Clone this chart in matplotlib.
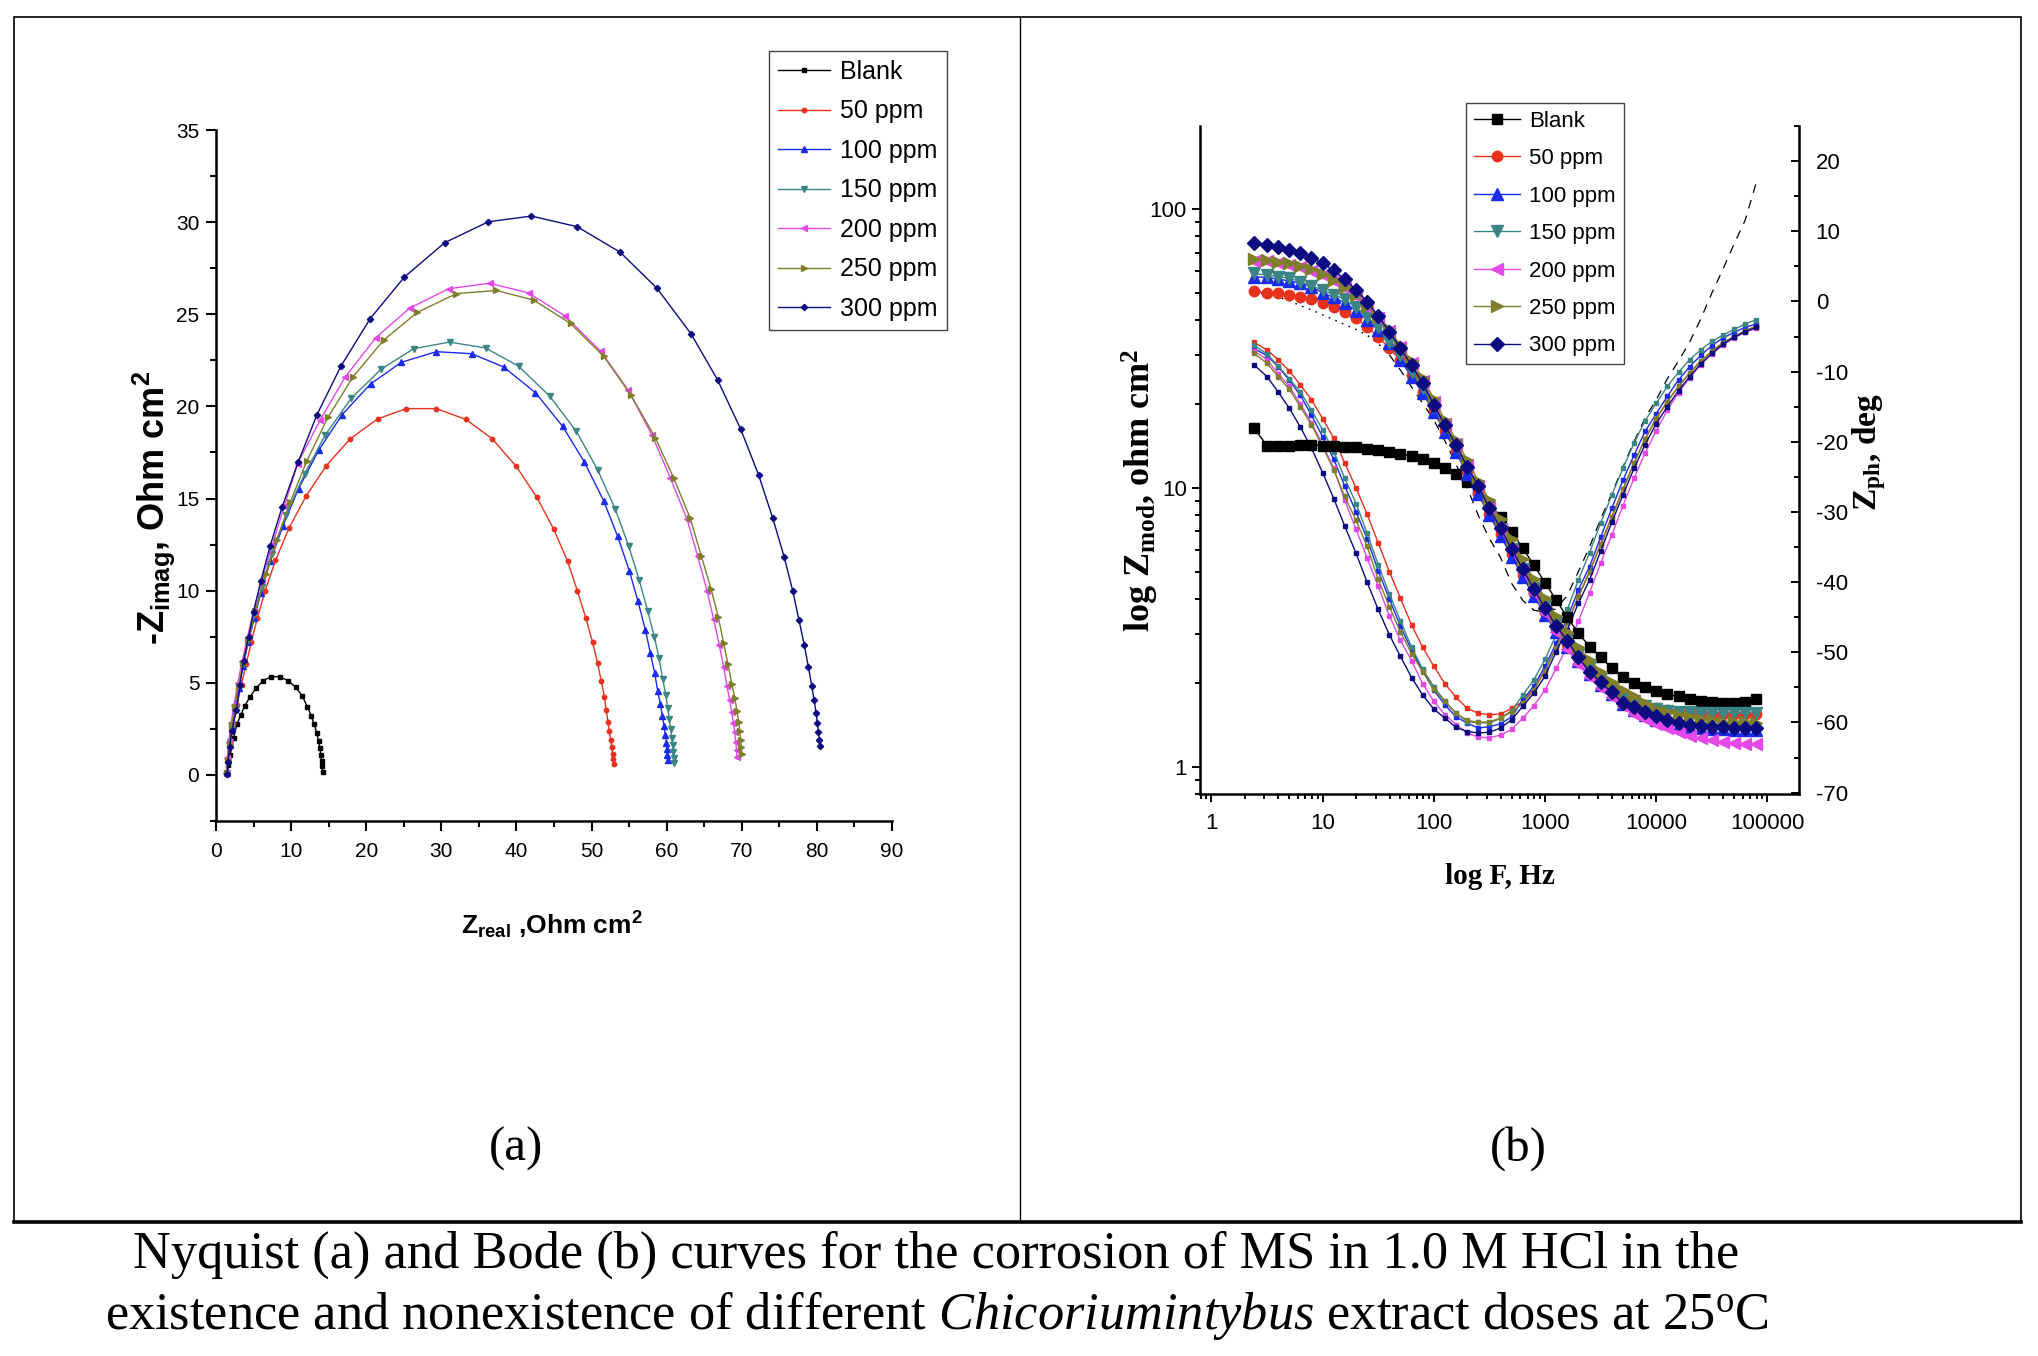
import matplotlib
matplotlib.use('Agg')
import matplotlib.pyplot as plt
from matplotlib.ticker import MultipleLocator, LogLocator, FuncFormatter, NullFormatter
from matplotlib.lines import Line2D
from matplotlib.patches import Rectangle

plt.rcParams['font.family'] = 'Liberation Sans'
plt.rcParams['axes.unicode_minus'] = False
plt.rcParams['mathtext.fontset'] = 'custom'
plt.rcParams['mathtext.rm'] = 'Liberation Serif'
plt.rcParams['mathtext.it'] = 'Liberation Serif:italic'
plt.rcParams['mathtext.bf'] = 'Liberation Serif:bold'

# ---------------- data ----------------
labels = ['Blank', '50 ppm', '100 ppm', '150 ppm', '200 ppm', '250 ppm', '300 ppm']
colors = ['#000000', '#E8321E', '#1A2BEB', '#3C8585', '#E448E8', '#7F7F2B', '#0C0C80']
nyq_markers = ['s', 'o', '^', 'v', '<', '>', 'D']

# Nyquist (a): Z real / -Z imag, Ohm cm2
zre_blank = [1.5, 1.65, 1.89, 2.33, 2.78, 3.31, 3.8, 4.55, 5.31, 6.29, 7.35, 8.55, 9.61, 10.59,
             11.48, 12.15, 12.68, 13.08, 13.43, 13.66, 13.83, 13.96, 14.05, 14.14, 14.19]
zim_blank = [0.05, 0.55, 1.1, 2.0, 2.74, 3.26, 3.73, 4.25, 4.71, 5.12, 5.33, 5.33, 5.1, 4.77,
             4.29, 3.71, 3.22, 2.74, 2.26, 1.85, 1.45, 1.08, 0.77, 0.46, 0.15]

zre_50 = [1.4, 1.6, 1.9, 2.3, 2.8, 3.4, 4.0, 4.7, 5.5, 6.55, 7.92, 9.7, 11.97, 14.68, 17.87,
          21.51, 25.33, 29.32, 33.28, 36.78, 39.98, 42.73, 44.95, 46.81, 48.1, 49.26, 50.14,
          50.81, 51.3, 51.7, 51.96, 52.19, 52.36, 52.54, 52.68, 52.81, 52.9, 52.99]
zim_50 = [0.1, 0.9, 1.8, 2.8, 3.8, 4.9, 6.0, 7.2, 8.5, 10.0, 11.64, 13.38, 15.12, 16.78, 18.24,
          19.32, 19.88, 19.88, 19.29, 18.24, 16.74, 15.06, 13.34, 11.6, 10.0, 8.49, 7.2,
          6.06, 5.08, 4.25, 3.51, 2.88, 2.39, 1.91, 1.49, 1.14, 0.87, 0.62]

zre_100 = [1.4, 1.55, 1.8, 2.1, 2.5, 3.0, 3.6, 4.3, 5.1, 5.98, 7.22, 8.9, 10.99, 13.66, 16.81,
           20.58, 24.66, 29.32, 34.03, 38.29, 42.51, 46.15, 49.03, 51.61, 53.47, 55.03, 56.18,
           57.16, 57.82, 58.4, 58.8, 59.16, 59.42, 59.64, 59.82, 59.96, 60.04, 60.09, 60.13]
zim_100 = [0.1, 0.8, 1.7, 2.6, 3.6, 4.7, 5.9, 7.2, 8.5, 9.9, 11.6, 13.5, 15.54, 17.61, 19.56,
           21.22, 22.39, 22.97, 22.86, 22.14, 20.75, 18.92, 16.99, 14.88, 12.95, 11.08, 9.42,
           7.88, 6.64, 5.54, 4.56, 3.84, 3.22, 2.68, 2.18, 1.76, 1.39, 1.08, 0.83]

zre_150 = [1.4, 1.55, 1.8, 2.1, 2.5, 3.0, 3.6, 4.3, 5.1, 6.1, 7.4, 9.3, 11.79, 14.54, 18.0,
           21.96, 26.3, 31.09, 35.9, 40.29, 44.42, 47.97, 50.81, 53.16, 54.94, 56.36, 57.47,
           58.36, 58.98, 59.47, 59.87, 60.14, 60.36, 60.54, 60.67, 60.8, 60.89, 60.93, 60.98]
zim_150 = [0.1, 0.8, 1.8, 2.7, 3.7, 4.8, 6.0, 7.3, 8.7, 10.2, 12.0, 14.1, 16.33, 18.44, 20.44,
           22.01, 23.13, 23.49, 23.17, 22.18, 20.56, 18.65, 16.56, 14.42, 12.43, 10.56, 8.9,
           7.51, 6.33, 5.23, 4.36, 3.63, 3.05, 2.47, 2.01, 1.6, 1.24, 0.93, 0.66]

zre_200 = [1.35, 1.5, 1.7, 2.0, 2.4, 2.9, 3.5, 4.2, 5.0, 6.1, 7.5, 9.1, 10.86, 13.88, 17.21,
           21.29, 25.77, 31.01, 36.43, 41.62, 46.5, 51.2, 54.9, 58.05, 60.49, 62.71, 64.13,
           65.37, 66.26, 67.02, 67.59, 68.04, 68.39, 68.65, 68.88, 69.06, 69.2, 69.3, 69.36]
zim_200 = [0.1, 0.9, 1.8, 2.8, 3.8, 5.0, 6.2, 7.5, 8.9, 10.6, 12.5, 14.6, 16.9, 19.27, 21.6,
           23.73, 25.33, 26.39, 26.68, 26.16, 24.9, 23.0, 20.87, 18.44, 16.12, 13.88, 11.87,
           10.0, 8.44, 7.03, 5.85, 4.81, 4.05, 3.42, 2.84, 2.32, 1.8, 1.35, 0.98]

zre_250 = [1.4, 1.55, 1.8, 2.1, 2.5, 3.0, 3.6, 4.3, 5.2, 6.69, 8.1, 9.88, 12.1, 14.9, 18.23,
           22.31, 26.79, 32.0, 37.32, 42.29, 47.2, 51.63, 55.2, 58.49, 60.93, 63.15, 64.62,
           65.91, 66.88, 67.59, 68.17, 68.66, 69.06, 69.37, 69.59, 69.72, 69.86, 69.95, 70.03]
zim_250 = [0.1, 0.8, 1.7, 2.7, 3.7, 4.8, 6.0, 7.3, 8.9, 10.9, 12.76, 14.8, 17.05, 19.4, 21.6,
           23.59, 25.1, 26.12, 26.29, 25.77, 24.5, 22.71, 20.64, 18.3, 16.12, 13.92, 11.87,
           10.1, 8.55, 7.16, 6.0, 4.96, 4.19, 3.46, 2.88, 2.39, 1.91, 1.49, 1.14]

zre_300 = [1.5, 1.6, 1.8, 2.1, 2.7, 3.2, 3.67, 4.33, 5.0, 5.98, 7.22, 8.82, 10.95, 13.43, 16.63,
           20.54, 25.06, 30.43, 36.25, 42.0, 48.1, 53.83, 58.71, 63.24, 66.79, 69.86, 72.25,
           74.12, 75.63, 76.78, 77.62, 78.33, 78.87, 79.31, 79.63, 79.89, 80.07, 80.21, 80.34, 80.42]
zim_300 = [0.05, 0.7, 1.5, 2.4, 3.5, 4.9, 6.2, 7.47, 8.86, 10.54, 12.45, 14.56, 16.99, 19.54, 22.18,
           24.77, 27.01, 28.88, 30.02, 30.33, 29.75, 28.36, 26.41, 23.94, 21.43, 18.76, 16.27,
           13.94, 11.85, 10.0, 8.4, 7.03, 5.85, 4.85, 4.05, 3.38, 2.8, 2.32, 1.91, 1.56]

zre_all = [zre_blank, zre_50, zre_100, zre_150, zre_200, zre_250, zre_300]
zim_all = [zim_blank, zim_50, zim_100, zim_150, zim_200, zim_250, zim_300]

# Bode (b): frequency, |Z| and phase
freq = [2.4, 3.16, 3.98, 5.01, 6.31, 7.94, 10.0, 12.6, 15.8, 20.0, 25.1, 31.6, 39.8, 50.1, 63.1,
        79.4, 100, 126, 158, 200, 251, 316, 398, 501, 631, 794, 1000, 1259, 1585, 1995, 2512,
        3162, 3981, 5012, 6310, 7943, 10000, 12589, 15849, 19953, 25119, 31623, 39811, 50119,
        63096, 79433]

zmod_blank = [16.5, 14.2, 14.2, 14.2, 14.3, 14.3, 14.2, 14.2, 14.1, 14.0, 13.8, 13.7, 13.5, 13.3,
              13.0, 12.7, 12.3, 11.8, 11.2, 10.55, 9.84, 8.8, 7.89, 6.98, 6.08, 5.30, 4.58, 3.97,
              3.44, 3.02, 2.70, 2.48, 2.26, 2.11, 2.0, 1.94, 1.87, 1.82, 1.79, 1.75, 1.73, 1.71,
              1.70, 1.70, 1.71, 1.75]
zmod_50 = [51.0, 50.2, 50.0, 49.3, 48.6, 47.6, 46.2, 44.7, 42.9, 40.6, 37.9, 34.9, 31.7, 28.8,
           25.4, 22.2, 19.0, 16.0, 13.6, 11.4, 9.6, 8.1, 6.85, 5.8, 4.9, 4.2, 3.6, 3.12, 2.76,
           2.46, 2.22, 2.04, 1.9, 1.8, 1.72, 1.67, 1.63, 1.6, 1.58, 1.57, 1.56, 1.55, 1.55, 1.55,
           1.55, 1.55]
zmod_100 = [57.3, 57.0, 56.2, 55.4, 54.3, 52.7, 50.2, 48.3, 46.2, 43.3, 40.1, 36.9, 33.1, 28.8,
            25.1, 21.9, 18.8, 15.9, 13.5, 11.2, 9.5, 8.0, 6.75, 5.68, 4.8, 4.1, 3.51, 3.05, 2.7,
            2.4, 2.15, 1.97, 1.82, 1.68, 1.6, 1.53, 1.48, 1.44, 1.41, 1.39, 1.38, 1.37, 1.37,
            1.36, 1.36, 1.36]
zmod_150 = [58.9, 58.1, 57.3, 56.6, 55.0, 53.1, 51.4, 49.3, 47.6, 44.5, 41.2, 37.9, 33.5, 30.0,
            26.2, 22.8, 19.6, 16.6, 14.1, 11.8, 10.1, 8.45, 7.15, 6.05, 5.15, 4.40, 3.78, 3.28,
            2.88, 2.55, 2.28, 2.08, 1.92, 1.80, 1.72, 1.66, 1.62, 1.59, 1.58, 1.57, 1.56, 1.56,
            1.56, 1.56, 1.56, 1.56]
zmod_200 = [65.5, 65.0, 64.2, 63.3, 62.0, 60.3, 58.0, 55.2, 52.2, 48.8, 44.6, 40.6, 36.6, 32.0,
            28.0, 24.2, 20.3, 17.0, 14.4, 12.1, 10.2, 8.5, 7.1, 5.95, 5.0, 4.22, 3.58, 3.05, 2.65,
            2.35, 2.10, 1.92, 1.78, 1.66, 1.55, 1.49, 1.43, 1.38, 1.33, 1.29, 1.27, 1.25, 1.23,
            1.22, 1.21, 1.21]
zmod_250 = [66.2, 65.8, 64.9, 64.0, 62.6, 60.9, 58.6, 55.8, 52.8, 49.3, 45.0, 41.0, 37.2, 32.5,
            28.5, 24.8, 20.9, 17.5, 14.9, 12.6, 10.6, 9.06, 7.73, 6.55, 5.55, 4.71, 4.03, 3.48,
            3.05, 2.69, 2.42, 2.20, 2.02, 1.89, 1.79, 1.69, 1.62, 1.58, 1.53, 1.51, 1.49, 1.47,
            1.45, 1.45, 1.45, 1.44]
zmod_300 = [75.9, 74.5, 73.1, 71.5, 69.5, 67.0, 64.0, 60.5, 56.1, 51.4, 46.7, 41.4, 36.4, 31.7,
            27.6, 23.8, 19.9, 16.8, 14.3, 11.9, 10.2, 8.47, 7.18, 6.04, 5.12, 4.34, 3.71, 3.20,
            2.84, 2.47, 2.20, 2.01, 1.85, 1.70, 1.64, 1.57, 1.52, 1.48, 1.44, 1.42, 1.40, 1.39,
            1.39, 1.38, 1.38, 1.38]
zmod_all = [zmod_blank, zmod_50, zmod_100, zmod_150, zmod_200, zmod_250, zmod_300]

phase_blank = [1.3, 1.0, 0.6, 0.1, -0.6, -1.2, -1.9, -2.6, -3.3, -4.0, -4.8, -6.0, -7.6, -9.8,
               -12.2, -14.5, -16.9, -19.9, -23.2, -26.6, -30.5, -33.8, -36.5, -40.2, -42.6, -44.0,
               -44.3, -43.8, -41.9, -38.5, -35.0, -31.0, -27.4, -23.6, -20.0, -16.6, -14.0, -11.0,
               -8.5, -5.8, -2.5, 1.2, 4.6, 8.2, 11.6, 17.0]
phase_50 = [-5.8, -6.9, -8.3, -9.9, -11.9, -14.0, -16.7, -19.5, -23.0, -26.6, -30.3, -34.4, -38.5,
            -42.3, -46.1, -49.3, -52.0, -54.5, -56.4, -58.0, -58.7, -58.9, -58.8, -58.0, -57.0,
            -55.2, -52.5, -49.3, -45.8, -42.0, -38.5, -34.6, -30.7, -26.8, -23.0, -19.6, -16.7,
            -14.3, -12.1, -10.2, -8.5, -7.1, -5.9, -5.0, -4.2, -3.5]
phase_100 = [-6.7, -7.7, -9.3, -11.2, -13.4, -16.2, -19.3, -22.5, -26.3, -30.0, -33.8, -38.4,
             -42.4, -46.3, -49.7, -52.6, -55.4, -57.5, -59.2, -60.1, -60.8, -60.6, -60.2, -59.2,
             -56.8, -54.8, -52.0, -48.7, -45.1, -41.1, -37.8, -33.6, -29.5, -25.5, -21.9, -18.5,
             -16.0, -13.5, -11.2, -9.3, -7.7, -6.3, -5.2, -4.4, -3.7, -3.2]
phase_150 = [-6.2, -7.5, -9.2, -11.0, -12.9, -15.5, -18.3, -21.4, -25.2, -28.8, -33.0, -37.5,
             -41.7, -45.5, -49.3, -52.4, -54.9, -57.0, -58.7, -59.9, -60.0, -60.1, -59.4, -58.3,
             -56.1, -53.9, -51.0, -47.5, -43.9, -39.7, -35.8, -31.6, -27.6, -23.8, -20.2, -17.0,
             -14.5, -12.1, -10.1, -8.3, -6.9, -5.7, -4.8, -4.0, -3.2, -2.6]
phase_200 = [-7.0, -8.3, -10.3, -12.1, -14.6, -17.3, -20.4, -23.8, -28.3, -32.5, -36.5, -40.6,
             -44.8, -48.3, -51.2, -54.5, -57.0, -58.9, -60.3, -61.5, -62.1, -62.2, -61.8, -61.0,
             -59.4, -57.6, -55.4, -52.3, -49.2, -45.6, -41.5, -37.3, -33.3, -29.1, -25.2, -21.6,
             -18.4, -15.5, -13.0, -10.9, -9.0, -7.5, -6.2, -5.2, -4.4, -3.8]
phase_250 = [-7.4, -8.8, -10.7, -12.5, -15.0, -17.6, -20.7, -24.0, -27.8, -31.2, -34.9, -39.6,
             -43.5, -47.1, -50.2, -52.8, -55.3, -57.0, -58.7, -59.7, -60.0, -59.9, -59.4, -58.5,
             -57.3, -55.4, -52.6, -49.4, -45.9, -42.1, -38.6, -34.7, -30.8, -26.8, -23.0, -19.6,
             -16.6, -14.3, -12.1, -10.2, -8.5, -7.1, -5.9, -5.0, -4.2, -3.6]
phase_300 = [-9.0, -10.7, -12.9, -15.2, -17.9, -20.9, -24.4, -28.1, -32.0, -35.9, -40.0, -43.9,
             -47.5, -50.6, -53.6, -56.1, -58.1, -59.4, -60.7, -61.3, -61.5, -61.4, -60.8, -59.6,
             -57.7, -55.8, -53.4, -49.9, -46.8, -43.0, -39.7, -35.6, -31.5, -27.6, -23.8, -20.4,
             -17.4, -15.0, -12.7, -10.7, -8.9, -7.4, -6.1, -5.1, -4.3, -3.7]
phase_inh = [phase_50, phase_100, phase_150, phase_200, phase_250, phase_300]

# ---------------- figure ----------------
W, H = 2038, 1356
fig = plt.figure(figsize=(W / 100, H / 100), dpi=100)


def fx(px):
    return px / W


def fy(py):
    return 1 - py / H


# outer frame and divider
fig.add_artist(Rectangle((fx(14), fy(1222)), fx(2021) - fx(14), fy(17) - fy(1222),
                         transform=fig.transFigure, fill=False, lw=1.2, ec='black'))
fig.add_artist(Line2D([fx(14), fx(2021)], [fy(1222), fy(1222)], transform=fig.transFigure,
                      lw=2.6, color='black'))
fig.add_artist(Line2D([fx(1020), fx(1020)], [fy(17), fy(1222)], transform=fig.transFigure,
                      lw=1.0, color='black'))

# ---- (a) Nyquist ----
ax = fig.add_axes([fx(216), fy(821), fx(892) - fx(216), fy(130) - fy(821)])
nyq_lines = []
for i in range(7):
    ms = 3.2 if nyq_markers[i] in ('s', 'o', 'D') else 4.2
    ln, = ax.plot(zre_all[i], zim_all[i], color=colors[i], marker=nyq_markers[i], ms=ms,
                  lw=1.0, mec=colors[i], mfc=colors[i])
    nyq_lines.append(ln)
ax.set_xlim(0, 90)
ax.set_ylim(-2.5, 35)
ax.spines['top'].set_visible(False)
ax.spines['right'].set_visible(False)
for s in ('left', 'bottom'):
    ax.spines[s].set_linewidth(1.8)
ax.xaxis.set_major_locator(MultipleLocator(10))
ax.xaxis.set_minor_locator(MultipleLocator(5))
ax.yaxis.set_major_locator(MultipleLocator(5))
ax.yaxis.set_minor_locator(MultipleLocator(2.5))
ax.tick_params(which='both', direction='out', width=1.5, labelsize=15)
ax.tick_params(which='major', length=7)
ax.tick_params(which='minor', length=4)
ax.tick_params(axis='x', pad=8)
ax.tick_params(axis='y', pad=5)

fig.text(fx(154), fy(508), r'-Z$\mathregular{_{imag}}$, Ohm cm$\mathregular{^2}$', rotation=90,
         ha='center', va='center', fontsize=26, fontweight='bold', family='Liberation Sans')
fig.text(fx(552), fy(925), r'Z$\mathregular{_{real}}$ ,Ohm cm$\mathregular{^2}$',
         ha='center', va='center', fontsize=19, fontweight='bold', family='Liberation Sans')

leg1 = fig.legend(nyq_lines, labels, loc='upper left', bbox_to_anchor=(fx(769), fy(51)),
                  frameon=True, fancybox=False, edgecolor='#444444', framealpha=1,
                  prop={'family': 'Liberation Sans', 'size': 18}, borderpad=0.35,
                  labelspacing=0.62, handlelength=2.1, handletextpad=0.4, borderaxespad=0)
leg1.get_frame().set_linewidth(1.0)

# ---- (b) Bode ----
axb = fig.add_axes([fx(1200), fy(794), fx(1799) - fx(1200), fy(126) - fy(794)])
axp = axb.twinx()
axb.set_zorder(2)
axp.set_zorder(1)
axb.patch.set_visible(False)

bode_markers = ['s', 'o', '^', 'v', '<', '>', 'D']
bode_ms = [7, 7.5, 8.5, 8.5, 8.5, 8.5, 7]
bode_lines = []
for i in range(7):
    ln, = axb.plot(freq, zmod_all[i], color=colors[i], marker=bode_markers[i], ms=bode_ms[i],
                   lw=1.0, mec=colors[i], mfc=colors[i])
    bode_lines.append(ln)

# blank phase: dotted at low frequency, dashed further on
axp.plot(freq[:13], phase_blank[:13], color='black', lw=1.0, ls=(0, (1.2, 4)))
axp.plot(freq[12:], phase_blank[12:], color='black', lw=0.9, ls=(0, (7, 6)))
for i, ph in enumerate(phase_inh):
    axp.plot(freq, ph, color=colors[i + 1], marker='s', ms=3.4, lw=1.0,
             mec=colors[i + 1], mfc=colors[i + 1])

axb.set_xscale('log')
axb.set_yscale('log')
axb.set_xlim(0.79, 1.92e5)
axb.set_ylim(0.8, 199)
axp.set_ylim(-70.2, 25)

plain = FuncFormatter(lambda v, _: '%g' % v)
axb.xaxis.set_major_locator(LogLocator(base=10, numticks=12))
axb.xaxis.set_minor_locator(LogLocator(base=10, subs=range(2, 10), numticks=12))
axb.xaxis.set_major_formatter(plain)
axb.xaxis.set_minor_formatter(NullFormatter())
axb.yaxis.set_major_locator(LogLocator(base=10, numticks=12))
axb.yaxis.set_minor_locator(LogLocator(base=10, subs=range(2, 10), numticks=12))
axb.yaxis.set_major_formatter(plain)
axb.yaxis.set_minor_formatter(NullFormatter())
axp.yaxis.set_major_locator(MultipleLocator(10))
axp.yaxis.set_minor_locator(MultipleLocator(5))

for s in ('top', 'right'):
    axb.spines[s].set_visible(False)
for s in ('top', 'left', 'bottom'):
    axp.spines[s].set_visible(False)
axb.spines['left'].set_linewidth(1.8)
axb.spines['bottom'].set_linewidth(1.8)
axp.spines['right'].set_linewidth(1.8)

axb.tick_params(which='both', direction='out', width=1.4, labelsize=16)
axb.tick_params(which='major', length=6)
axb.tick_params(which='minor', length=3.5)
axb.tick_params(axis='x', pad=8)
axp.tick_params(which='both', direction='in', width=1.4, labelsize=16, pad=12)
axp.tick_params(which='major', length=6)
axp.tick_params(which='minor', length=3.5)

fig.text(fx(1140), fy(490), r'log Z$\mathregular{_{mod}}$, ohm cm$\mathregular{^2}$', rotation=90,
         ha='center', va='center', fontsize=26, fontweight='bold', family='Liberation Serif')
fig.text(fx(1500), fy(877), 'log F, Hz', ha='center', va='center', fontsize=21,
         fontweight='bold', family='Liberation Serif')
fig.text(fx(1869), fy(452), r'Z$\mathregular{_{ph}}$, deg', rotation=90, ha='center',
         va='center', fontsize=24, fontweight='bold', family='Liberation Serif')

leg2 = fig.legend(bode_lines, labels, loc='upper left', bbox_to_anchor=(fx(1466), fy(103)),
                  frameon=True, fancybox=False, edgecolor='#444444', framealpha=1,
                  prop={'family': 'Liberation Sans', 'size': 16}, borderpad=0.35,
                  labelspacing=0.74, handlelength=2.1, handletextpad=0.4, borderaxespad=0)
leg2.get_frame().set_linewidth(1.0)

# ---- panel tags and caption ----
fig.text(fx(516), fy(1149), '(a)', ha='center', va='center', fontsize=35,
         family='Liberation Serif')
fig.text(fx(1518), fy(1149), '(b)', ha='center', va='center', fontsize=35,
         family='Liberation Serif')
fig.text(fx(936), fy(1255),
         'Nyquist (a) and Bode (b) curves for the corrosion of MS in 1.0 M HCl in the',
         ha='center', va='center', fontsize=37.7, family='Liberation Serif')
fig.text(fx(937), fy(1315),
         r'existence and nonexistence of different $\mathit{Chicoriumintybus}$ extract doses at 25$^{\mathregular{o}}$C',
         ha='center', va='center', fontsize=37.7, family='Liberation Serif')

fig.savefig('out.png', dpi=100)
